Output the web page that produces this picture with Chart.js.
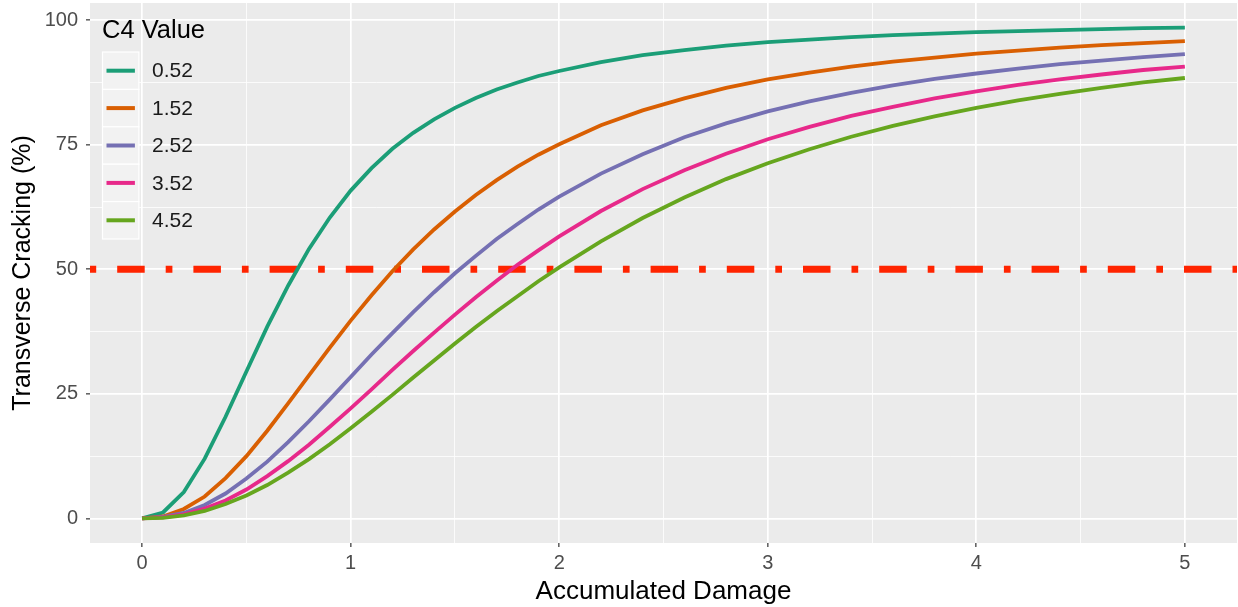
<!DOCTYPE html>
<html>
<head>
<meta charset="utf-8">
<title>Transverse Cracking vs Accumulated Damage</title>
<script src="https://cdn.jsdelivr.net/npm/chart.js@4/dist/chart.umd.min.js"></script>
<style>
  html, body { margin: 0; padding: 0; background: #ffffff; }
  #wrap { width: 1238px; height: 607px; position: relative; }
</style>
</head>
<body>
<div id="wrap"><canvas id="chart" width="1238" height="607"></canvas></div>
<script>
// Accumulated damage values (x)
const damage = [0, 0.1, 0.2, 0.3, 0.4, 0.5, 0.6, 0.7, 0.8, 0.9, 1.0,
                1.1, 1.2, 1.3, 1.4, 1.5, 1.6, 1.7, 1.8, 1.9, 2.0,
                2.2, 2.4, 2.6, 2.8, 3.0, 3.2, 3.4, 3.6, 3.8, 4.0,
                4.2, 4.4, 4.6, 4.8, 5.0];

// C4 calibration values, one curve each
const c4Values = ['0.52', '1.52', '2.52', '3.52', '4.52'];

// Transverse cracking (%) for each C4 value
const crackC4_052 = [0, 1.2, 5.3, 12.0, 20.4, 29.5, 38.5, 46.7, 54.1, 60.4, 65.8,
                     70.3, 74.2, 77.4, 80.1, 82.4, 84.4, 86.1, 87.5, 88.8, 89.8,
                     91.6, 93.0, 94.0, 94.9, 95.6, 96.1, 96.6, 97.0, 97.3, 97.6,
                     97.8, 98.0, 98.2, 98.4, 98.5];
const crackC4_152 = [0, 0.4, 1.9, 4.4, 8.1, 12.5, 17.6, 23.1, 28.7, 34.3, 39.7,
                     44.8, 49.6, 54.0, 58.0, 61.6, 64.9, 67.9, 70.6, 73.0, 75.1,
                     78.9, 81.9, 84.3, 86.4, 88.1, 89.5, 90.7, 91.7, 92.5, 93.3,
                     93.9, 94.5, 95.0, 95.4, 95.8];
const crackC4_252 = [0, 0.3, 1.1, 2.7, 5.0, 8.0, 11.4, 15.3, 19.5, 23.9, 28.4,
                     32.9, 37.2, 41.4, 45.4, 49.2, 52.7, 56.1, 59.1, 62.0, 64.6,
                     69.2, 73.1, 76.5, 79.3, 81.7, 83.7, 85.4, 86.9, 88.2, 89.3,
                     90.3, 91.2, 91.9, 92.6, 93.2];
const crackC4_352 = [0, 0.2, 0.8, 2.0, 3.6, 5.8, 8.5, 11.5, 14.8, 18.4, 22.1,
                     25.9, 29.8, 33.6, 37.3, 40.9, 44.4, 47.7, 50.9, 53.8, 56.6,
                     61.7, 66.1, 69.9, 73.2, 76.1, 78.6, 80.8, 82.6, 84.3, 85.7,
                     87.0, 88.1, 89.1, 90.0, 90.7];
const crackC4_452 = [0, 0.1, 0.6, 1.5, 2.9, 4.6, 6.7, 9.2, 11.9, 14.9, 18.1,
                     21.4, 24.8, 28.3, 31.7, 35.1, 38.4, 41.6, 44.6, 47.6, 50.4,
                     55.6, 60.3, 64.4, 68.1, 71.3, 74.1, 76.6, 78.8, 80.7, 82.4,
                     83.9, 85.2, 86.4, 87.5, 88.4];

// 50% cracking threshold
const threshold = 50;

// Axis ticks (major get labels, minor only gridlines)
const xMajorTicks = [0, 1, 2, 3, 4, 5];
const xMinorTicks = [0.5, 1.5, 2.5, 3.5, 4.5];
const yMajorTicks = [0, 25, 50, 75, 100];
const yMinorTicks = [12.5, 37.5, 62.5, 87.5];

const xRange = [-0.25, 5.25];
const yRange = [-4.93, 103.45];

const seriesValues = [crackC4_052, crackC4_152, crackC4_252, crackC4_352, crackC4_452];
const seriesColors = ['#1B9E77', '#D95F02', '#7570B3', '#E7298A', '#66A61E'];

const FONT = "'Liberation Sans', Arial, Helvetica, sans-serif";

const curveSets = seriesValues.map((vals, i) => ({
  label: c4Values[i],
  data: damage.map((d, j) => ({ x: d, y: vals[j] })),
  borderColor: seriesColors[i],
  backgroundColor: seriesColors[i],
  borderWidth: 3.8,
  pointRadius: 0,
  tension: 0,
  fill: false,
  order: seriesValues.length - i
}));

const thresholdSet = {
  label: 'threshold',
  data: [{ x: xRange[0], y: threshold }, { x: xRange[1], y: threshold }],
  borderColor: '#FF2400',
  borderWidth: 7,
  borderDash: [6.7, 21, 27.5, 21],
  borderDashOffset: 0.5,
  borderCapStyle: 'butt',
  pointRadius: 0,
  fill: false,
  order: 10
};

// Grey panel behind the plotting area
const panelBg = {
  id: 'panelBg',
  beforeDraw(chart) {
    const { ctx, chartArea: a } = chart;
    ctx.save();
    ctx.fillStyle = '#EBEBEB';
    ctx.fillRect(a.left, a.top, a.right - a.left, a.bottom - a.top);
    ctx.restore();
  }
};

// Legend drawn inside the panel, top-left
const insideLegend = {
  id: 'insideLegend',
  afterDraw(chart) {
    const ctx = chart.ctx;
    const left = 102.5, top = 52, key = 37.4;
    ctx.save();
    ctx.fillStyle = '#000000';
    ctx.font = `25.5px ${FONT}`;
    ctx.textAlign = 'left';
    ctx.textBaseline = 'middle';
    ctx.fillText('C4 Value', 102, 31);
    curveSets.forEach((ds, i) => {
      const y = top + i * key;
      ctx.fillStyle = '#F2F2F2';
      ctx.fillRect(left, y, key - 1, key);
      ctx.strokeStyle = '#FFFFFF';
      ctx.lineWidth = 1.2;
      ctx.strokeRect(left, y, key - 1, key);
      ctx.strokeStyle = ds.borderColor;
      ctx.lineWidth = 4;
      ctx.beginPath();
      ctx.moveTo(left + 4, y + key / 2);
      ctx.lineTo(left + key - 5, y + key / 2);
      ctx.stroke();
      ctx.fillStyle = '#1A1A1A';
      ctx.font = `21px ${FONT}`;
      ctx.fillText(ds.label, 152, y + key / 2 + 1);
    });
    ctx.restore();
  }
};

function tickList(major, minor) {
  return major.concat(minor).sort((a, b) => a - b).map(v => ({ value: v }));
}

new Chart(document.getElementById('chart'), {
  type: 'line',
  data: { datasets: [...curveSets, thresholdSet] },
  options: {
    responsive: false,
    animation: false,
    devicePixelRatio: 1,
    layout: { padding: { top: 3, right: 1, left: 0, bottom: 0 } },
    plugins: {
      legend: { display: false },
      tooltip: { enabled: false }
    },
    scales: {
      x: {
        type: 'linear',
        min: xRange[0],
        max: xRange[1],
        afterBuildTicks(s) { s.ticks = tickList(xMajorTicks, xMinorTicks); },
        afterFit(s) {
          s.height = 64;
          s.paddingLeft = 0; s.paddingRight = 0;
          s.paddingTop = 0; s.paddingBottom = 0;
        },
        border: { display: false },
        grid: {
          color: '#FFFFFF',
          lineWidth: c => xMajorTicks.includes(c.tick.value) ? 1.7 : 0.8,
          tickColor: c => xMajorTicks.includes(c.tick.value) ? '#333333' : 'rgba(0,0,0,0)',
          tickLength: 4,
          tickWidth: 1.2
        },
        ticks: {
          autoSkip: false,
          maxRotation: 0,
          color: '#4D4D4D',
          font: { family: FONT, size: 20 },
          padding: 4,
          callback: v => xMajorTicks.includes(v) ? String(v) : ''
        },
        title: {
          display: true,
          text: 'Accumulated Damage',
          color: '#000000',
          font: { family: FONT, size: 26 },
          padding: { top: 2, bottom: 0 }
        }
      },
      y: {
        type: 'linear',
        min: yRange[0],
        max: yRange[1],
        afterBuildTicks(s) { s.ticks = tickList(yMajorTicks, yMinorTicks); },
        afterFit(s) {
          s.width = 90;
          s.paddingLeft = 0; s.paddingRight = 0;
          s.paddingTop = 0; s.paddingBottom = 0;
        },
        border: { display: false },
        grid: {
          color: '#FFFFFF',
          lineWidth: c => yMajorTicks.includes(c.tick.value) ? 1.7 : 0.8,
          tickColor: c => yMajorTicks.includes(c.tick.value) ? '#333333' : 'rgba(0,0,0,0)',
          tickLength: 4,
          tickWidth: 1.2
        },
        ticks: {
          autoSkip: false,
          color: '#4D4D4D',
          font: { family: FONT, size: 20 },
          padding: 8,
          callback: v => yMajorTicks.includes(v) ? String(v) : ''
        },
        title: {
          display: true,
          text: 'Transverse Cracking (%)',
          color: '#000000',
          font: { family: FONT, size: 25 },
          padding: { top: 8, bottom: 0 }
        }
      }
    }
  },
  plugins: [panelBg, insideLegend]
});
</script>
</body>
</html>
